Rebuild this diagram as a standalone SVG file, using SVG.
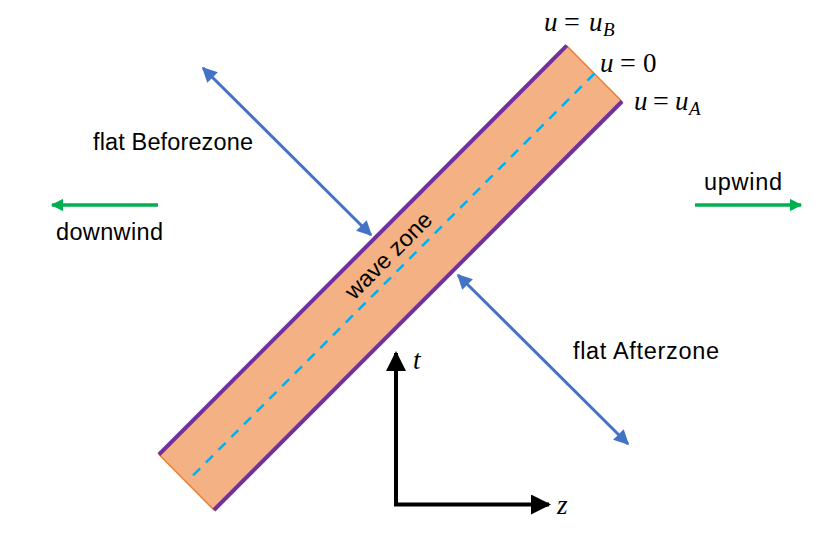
<svg xmlns="http://www.w3.org/2000/svg" width="820" height="539" viewBox="0 0 820 539">
<style>
.lbl{font-family:"Liberation Sans",Arial,sans-serif;font-size:23.5px;fill:#000}
.math{font-family:"Liberation Serif","Times New Roman",serif;font-size:27px;fill:#000}
.mi{font-style:italic}
.eq{font-size:28px}
.sub{font-style:italic;font-size:19px}
.blue{stroke:#4472C4;stroke-width:3;fill:none;marker-start:url(#bh);marker-end:url(#bh)}
.green{stroke:#00B050;stroke-width:3.5;fill:none;marker-end:url(#gh)}
.axis{stroke:#000;stroke-width:4;fill:none;marker-end:url(#kh)}
</style>
<defs>
<marker id="bh" viewBox="0 0 10 10" refX="9" refY="5" markerWidth="6" markerHeight="5" orient="auto-start-reverse" markerUnits="strokeWidth"><path d="M0,0L10,5L0,10z" fill="#4472C4"/></marker>
<marker id="gh" viewBox="0 0 10 10" refX="9" refY="5" markerWidth="4" markerHeight="3.5" orient="auto" markerUnits="strokeWidth"><path d="M0,0L10,5L0,10z" fill="#00B050"/></marker>
<marker id="kh" viewBox="0 0 10 10" refX="9" refY="5" markerWidth="5" markerHeight="5" orient="auto" markerUnits="strokeWidth"><path d="M0,0L10,5L0,10z" fill="#000"/></marker>
</defs>
<g id="wave-zone">
<polygon points="566.7,45.7 622,101.5 214,510 159,454.5" fill="#F4B183" stroke="#ED7D31" stroke-width="1.5"/>
<line x1="566.7" y1="45.7" x2="159" y2="454.5" stroke="#7030A0" stroke-width="4"/>
<line x1="622" y1="101.5" x2="214" y2="510" stroke="#7030A0" stroke-width="4"/>
<line x1="594.5" y1="73.5" x2="192" y2="476.5" stroke="#00B0F0" stroke-width="2.5" stroke-dasharray="10,8"/>
<text class="lbl" transform="translate(394,261) rotate(-45)" text-anchor="middle">wave zone</text>
</g>
<g id="labels-u">
<text class="math" y="31"><tspan class="mi" x="544">u</tspan><tspan class="eq" x="564">=</tspan><tspan class="mi" x="589">u</tspan><tspan class="sub" x="603" y="36">B</tspan></text>
<text class="math" y="72"><tspan class="mi" x="600">u</tspan><tspan class="eq" x="620">=</tspan><tspan x="643">0</tspan></text>
<text class="math" y="110"><tspan class="mi" x="634">u</tspan><tspan class="eq" x="653">=</tspan><tspan class="mi" x="675">u</tspan><tspan class="sub" x="689" y="115">A</tspan></text>
</g>
<g id="connectors">
<line class="blue" x1="203" y1="68" x2="371" y2="235"/>
<line class="blue" x1="458" y1="275" x2="628" y2="444"/>
<line class="green" x1="158" y1="205" x2="52" y2="205"/>
<line class="green" x1="695" y1="205" x2="801" y2="205"/>
<line class="axis" x1="396" y1="505" x2="396" y2="353"/>
<line class="axis" x1="394" y1="504.5" x2="549" y2="504.5"/>
</g>
<g id="label-before"><text class="lbl" x="93" y="150" textLength="160">flat Beforezone</text></g>
<g id="label-after"><text class="lbl" x="573" y="359" textLength="146">flat Afterzone</text></g>
<g id="label-downwind"><text class="lbl" x="56" y="240" textLength="107">downwind</text></g>
<g id="label-upwind"><text class="lbl" x="704" y="190" textLength="78">upwind</text></g>
<g id="axis-labels">
<text class="math mi" x="413" y="369">t</text>
<text class="math mi" x="557" y="514">z</text>
</g>
</svg>
